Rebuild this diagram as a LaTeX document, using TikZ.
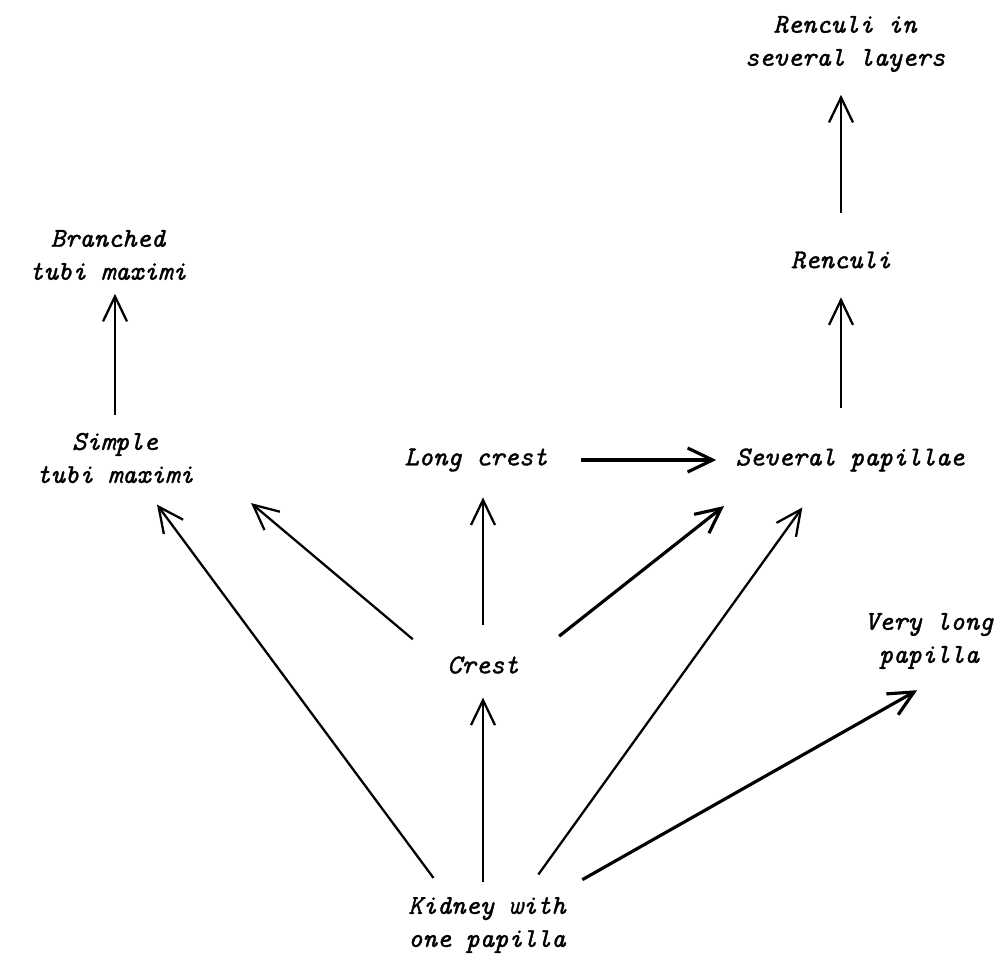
\documentclass[tikz,border=0pt]{standalone}
\usepackage{fontspec}
\newfontfamily\stagefont{Latin Modern Mono}[FakeBold=1.3]
\usetikzlibrary{arrows.meta}

\begin{document}
\begin{tikzpicture}[x=0.02cm,y=-0.02cm,
    stage/.style={font=\fontsize{15.5}{18.8}\selectfont\stagefont\itshape,align=center,inner sep=2pt},
    evol/.style={-{Straight Barb[length=5mm,width=4.8mm]},line width=1.3pt},
    heavy/.style={line width=1.8pt}]
  \useasboundingbox (0,0) rectangle (998,957);
  \node[stage] (layers) at (845,44) {Renculi in\\several layers};
  \node[stage] (renc) at (841,260) {Renculi};
  \node[stage] (sevpap) at (850,460) {Several papillae};
  \node[stage] (longcr) at (476,460) {Long crest};
  \node[stage] (branch) at (108,255) {Branched\\tubi maximi};
  \node[stage] (simple) at (115,458) {Simple\\tubi maximi};
  \node[stage] (crest) at (483,665) {Crest};
  \node[stage] (vlong) at (929,641) {Very long\\papilla};
  \node[stage] (kidney) at (487,925) {Kidney with\\one papilla};
  \draw[evol,shorten <=0.7cm,shorten >=0.38cm] (renc.north) -- (renc.north |- layers.south);
  \draw[evol,shorten <=0.74cm,shorten >=0.5cm] (sevpap.north -| renc) -- (renc.south);
  \draw[evol,shorten <=0.28cm,shorten >=0.2cm] (simple.north) -- (simple.north |- branch.south);
  \draw[evol,heavy,shorten <=0.6cm,shorten >=0.31cm] (longcr.east) -- (longcr.east -| sevpap.west);
  \draw[evol,shorten <=0.8cm,shorten >=1.4cm] (crest.west) -- (simple.east);
  \draw[evol,shorten <=0.56cm,shorten >=0.44cm] (crest.north) -- (crest.north |- longcr.south);
  \draw[evol,heavy,shorten <=0.93cm,shorten >=0.99cm] (crest.east) -- (sevpap.190);
  \draw[evol,shorten <=0.38cm,shorten >=0.44cm] (kidney.143) -- (simple.-45);
  \draw[evol,shorten <=0.23cm,shorten >=0.4cm] (kidney.north -| crest) -- (crest.south);
  \draw[evol,shorten <=0.46cm,shorten >=0.79cm] (kidney.40) -- (sevpap.212);
  \draw[evol,heavy,shorten <=0.55cm,shorten >=0.71cm] (kidney.24) -- (vlong.-59);
\end{tikzpicture}
\end{document}
